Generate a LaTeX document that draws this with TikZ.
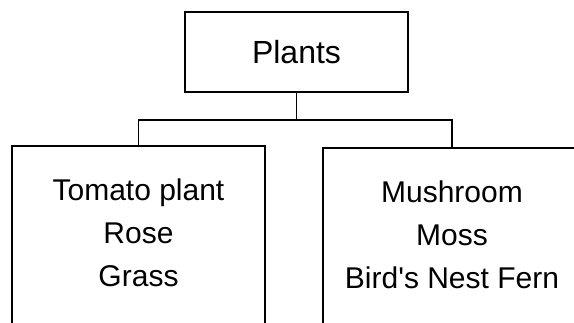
\documentclass[tikz,border=0pt]{standalone}
\usepackage{fontspec}
\setmainfont{Liberation Sans}[Ligatures=TeXOff]
\usetikzlibrary{positioning}

\tikzset{
    groupbox/.style={draw, line width=1.7pt, inner sep=0pt, minimum height=197pt},
    itemtext/.style={inner sep=0pt, align=center, font=\fontsize{30}{43}\selectfont},
    link/.style={line width=1.7pt}
}

\begin{document}
\begin{tikzpicture}[x=1pt,y=1pt]
    \useasboundingbox (0,0) rectangle (574,322);
    %\draw[help lines] (0,0) grid[step=50] (574,322);
    \node[draw, line width=1.7pt, minimum width=223pt, minimum height=80pt,
          font=\fontsize{32}{38}\selectfont] (plants) at (296.5,270) {Plants};
    \node[groupbox, minimum width=253pt, anchor=north] (flowering) at (138.5,177) {};
    \node[groupbox, minimum width=258pt, anchor=north] (nonflowering) at (452,175) {};
    \node[itemtext, below=34pt of flowering.north] (floweringlist) {Tomato plant\\Rose\\Grass};
    \node[itemtext, below=34pt of nonflowering.north] (nonfloweringlist) {Mushroom\\Moss\\Bird's Nest Fern};
    \draw[link] (plants.south) -- ++(0,-27) -| (flowering.north);
    \draw[link] (plants.south) -- ++(0,-27) -| (nonflowering.north);
\end{tikzpicture}
\end{document}
